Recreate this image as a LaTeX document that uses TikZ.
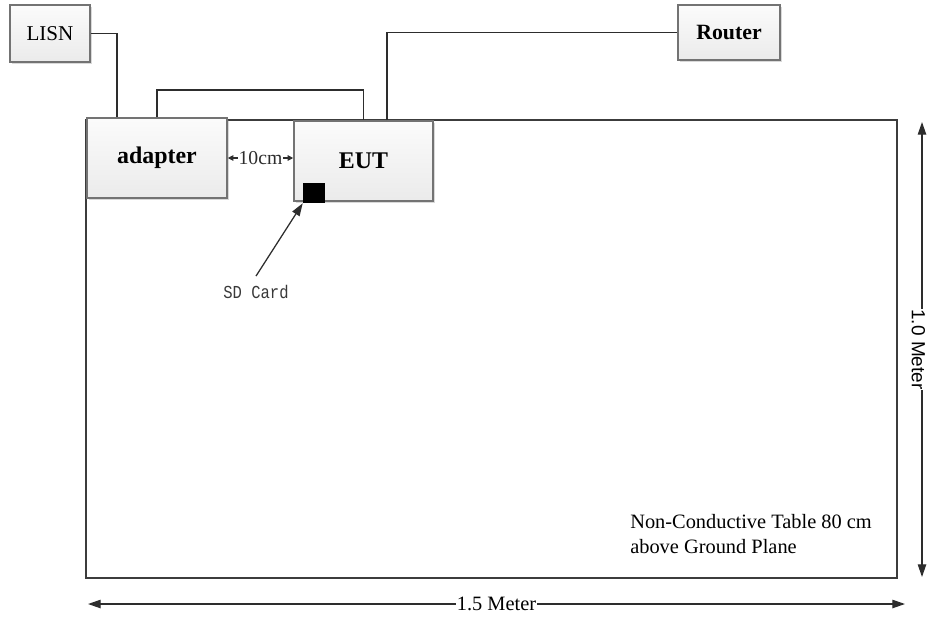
\documentclass[tikz,border=0pt]{standalone}
\usepackage{fontspec}
\setmainfont{Liberation Serif}
\newfontfamily\dimfont{Liberation Sans}
\newfontfamily\cardfont{Liberation Mono}
\usetikzlibrary{arrows.meta, positioning, calc, shadows}
\definecolor{boxedge}{RGB}{115,115,115}
\definecolor{wire}{RGB}{45,45,45}
\definecolor{tableedge}{RGB}{60,60,60}

\tikzset{
  devbox/.style={draw=boxedge, line width=1.1pt, top color=gray!3, bottom color=gray!16,
    drop shadow={opacity=0.3, shadow xshift=1.2pt, shadow yshift=-1.2pt},
    inner sep=0pt, font=\fontsize{17}{19}\selectfont\bfseries},
  wireline/.style={draw=wire, line width=1.1pt},
  dimline/.style={draw=wire, line width=0.9pt,
    {Triangle[length=9pt,width=6pt]}-{Triangle[length=9pt,width=6pt]}},
}

\begin{document}
\begin{tikzpicture}[x=0.025cm, y=-0.025cm]
    \useasboundingbox (0,0) rectangle (928,620);

    % Table outline
    \node[draw=tableedge, line width=1.6pt, minimum width=20.275cm, minimum height=11.45cm,
        inner sep=0pt] (table) at (491.5,349) {};

    % Devices
    \node[devbox, minimum width=3.5cm, minimum height=2cm] (adapter) at (157,158) {adapter};
    \node[devbox, minimum width=3.475cm, minimum height=2cm] (eut) at (363.5,161) {EUT};
    \node[devbox, font=\fontsize{15}{17}\selectfont, minimum width=2cm, minimum height=1.425cm]
        (lisn) at (50,33.5) {LISN};
    \node[devbox, font=\fontsize{15.5}{17}\selectfont\bfseries, minimum width=2.55cm,
        minimum height=1.375cm] (router) at (729,32.5) {Router};
    \node[fill=black, minimum width=0.55cm, minimum height=0.5cm, inner sep=0pt] (sd) at (314,193) {};
    \node[font=\cardfont\fontsize{13}{15}\selectfont, text=gray!45!black, xscale=0.85]
        (sdlabel) at (256,292) {SD Card};

    % Cables
    \draw[wireline] (lisn.east) -| ([xshift=0.775cm]adapter.north west);
    \draw[wireline] (adapter.north) -- ++(0,-27) -| (eut.north);
    \draw[wireline] ([xshift=0.59cm]eut.north) |- (router.west);

    % SD card pointer
    \draw[wire, line width=0.9pt, -{Triangle[length=9pt,width=6pt]}]
        ([yshift=3pt]sdlabel.north) -- (sd.south west);

    % Spacing adapter - EUT
    \draw[wire, line width=0.8pt, {Triangle[length=4pt,width=4pt]}-{Triangle[length=4pt,width=4pt]}]
        (adapter.east) -- node[fill=white, inner sep=0.5pt, font=\fontsize{14}{16}\selectfont] (gap) {10cm}
        (adapter.east -| eut.west);

    % Table dimensions
    \coordinate (hleft) at (88,604);
    \coordinate (hright) at (905,604);
    \draw[dimline] (hleft) -- node[fill=white, inner sep=0.5pt, font=\fontsize{14.5}{16}\selectfont]
        (hlabel) {1.5 Meter} (hright);
    \coordinate (vtop) at (922,122);
    \coordinate (vbot) at (922,577);
    \draw[dimline] (vtop) -- node[fill=white, inner sep=0.5pt, xshift=-2.5pt, rotate=-90,
        font=\dimfont\fontsize{13.5}{16}\selectfont] (vlabel) {1.0 Meter} (vbot);

    \node[anchor=north west, align=left, inner sep=0pt, font=\fontsize{14.5}{17.7}\selectfont]
        (note) at (630,514) {Non-Conductive Table 80 cm\\above Ground Plane};
\end{tikzpicture}
\end{document}
